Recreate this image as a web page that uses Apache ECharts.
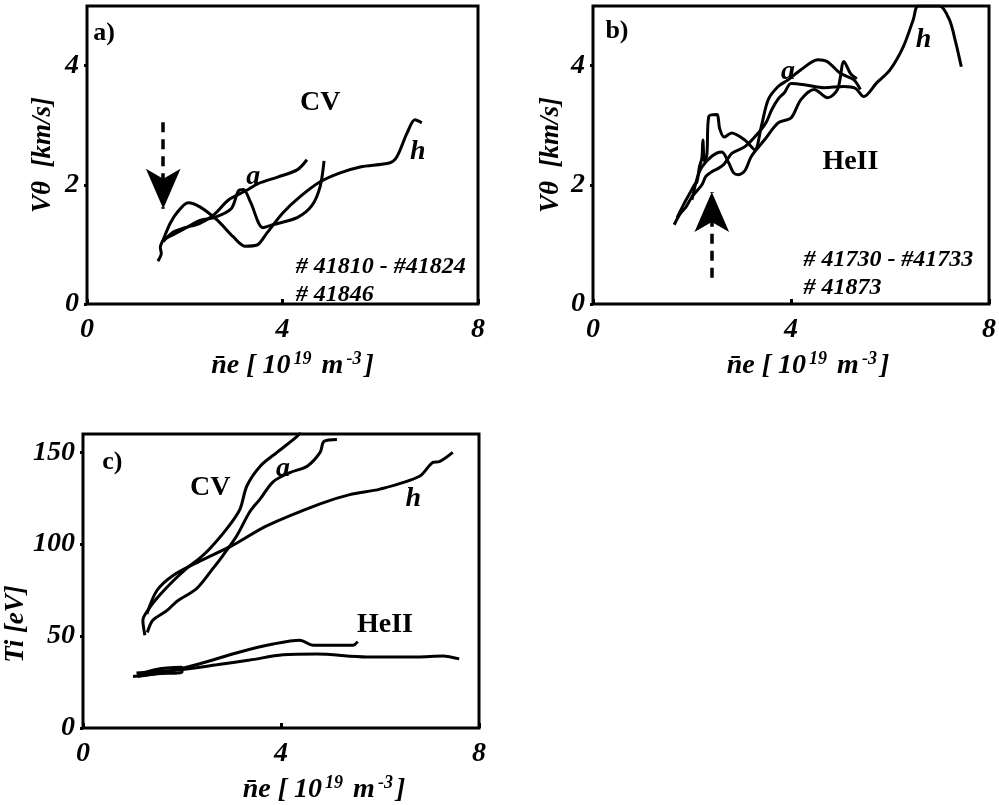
<!DOCTYPE html>
<html><head><meta charset="utf-8">
<script src="https://cdn.jsdelivr.net/npm/echarts@6/dist/echarts.min.js"></script>
<style>html,body{margin:0;padding:0;background:#fff}#c{width:999px;height:805px}</style>
</head><body><div id="c"></div>
<script>
// ---- tick labels ----
const xTicks = [0, 4, 8];
const yTicksV = [0, 2, 4];
const yTicksT = [0, 50, 100, 150];

// ---- panel a : CV rotation velocity ----
const aCurveH = [[1.45,0.72],[1.52,0.85],[1.5,0.95],[1.56,1.08],[1.7,1.35],[1.84,1.53],[2.07,1.70],[2.31,1.63],[2.66,1.41],[2.99,1.13],[3.23,0.97],[3.48,0.99],[3.68,1.19],[4.01,1.53],[4.36,1.80],[4.77,2.05],[5.18,2.20],[5.59,2.30],[6.2,2.37],[6.34,2.47],[6.55,2.87],[6.71,3.09],[6.85,3.04]];
const aCurveA = [[1.56,1.05],[1.75,1.2],[2.0,1.28],[2.3,1.35],[2.6,1.5],[2.9,1.75],[3.25,1.9],[3.5,2.02],[3.9,2.13],[4.3,2.25],[4.5,2.42]];
const aCurve3 = [[1.56,1.08],[1.9,1.22],[2.3,1.4],[2.6,1.45],[2.95,1.6],[3.1,1.9],[3.2,1.92],[3.35,1.7],[3.6,1.28],[3.8,1.33],[4.3,1.45],[4.6,1.65],[4.77,1.97],[4.85,2.4]];
const aArrow = [[1.56,3.05],[1.56,1.6]];

// ---- panel b : HeII rotation velocity ----
const bCurveH = [[1.64,1.33],[1.75,1.5],[1.88,1.63],[2.0,1.8],[2.08,1.88],[2.2,2.0],[2.28,2.14],[2.4,2.22],[2.54,2.28],[2.65,2.35],[2.81,2.53],[3.07,2.64],[3.34,2.87],[3.5,3.05],[3.61,3.26],[3.75,3.45],[3.87,3.55],[4.0,3.7],[4.27,3.68],[4.67,3.63],[5.07,3.65],[5.3,3.62],[5.47,3.48],[5.73,3.71],[6.0,3.93],[6.27,4.32],[6.47,4.77],[6.57,5.0],[7.0,5.0],[7.2,4.77],[7.33,4.38],[7.44,3.98]];
const bCurveA = [[1.7,1.45],[1.85,1.7],[1.95,1.85],[2.05,2.0],[2.1,2.05],[2.15,2.3],[2.2,2.45],[2.22,2.75],[2.25,2.4],[2.3,2.5],[2.34,3.15],[2.5,3.18],[2.56,2.94],[2.65,2.8],[2.8,2.87],[3.07,2.75],[3.27,2.59],[3.4,2.98],[3.54,3.43],[3.74,3.65],[3.94,3.76],[4.2,3.93],[4.54,4.1],[4.73,4.07],[5.0,3.87],[5.27,3.76],[5.4,3.6]];
const bCurve3 = [[2.0,1.75],[2.1,2.1],[2.2,2.3],[2.4,2.48],[2.6,2.55],[2.74,2.37],[2.84,2.2],[2.94,2.17],[3.07,2.24],[3.2,2.48],[3.47,2.76],[3.74,3.04],[4.0,3.12],[4.2,3.43],[4.47,3.6],[4.74,3.46],[4.94,3.6],[5.07,4.07],[5.2,3.87],[5.33,3.78]];
const bArrow = [[2.4,0.44],[2.4,1.88]];

// ---- panel c : ion temperature ----
const cCurveCV = [[1.25,50.5],[1.21,58.6],[1.35,65.6],[1.56,72.6],[1.82,80],[2.1,87],[2.36,92.5],[2.57,97.8],[2.91,108.6],[3.17,119],[3.31,131.7],[3.58,142.5],[3.92,150],[4.32,158.6],[4.4,161]];
const cCurveA = [[1.3,52],[1.41,58.6],[1.7,64],[1.9,69],[2.3,76],[2.63,87],[2.83,94],[3.11,104.8],[3.37,117.7],[3.58,124.7],[3.84,134],[4.18,139],[4.53,142.5],[4.79,150],[4.87,156],[5.13,157]];
const cCurveH = [[1.29,62],[1.49,74.7],[1.82,83],[2.36,90.8],[3.03,99.5],[3.71,110],[4.79,122],[5.39,127],[6.0,130],[6.8,137],[7.07,144.6],[7.2,145],[7.47,150]];
const cHe1 = [[1.01,28],[1.7,30.6],[2.36,35],[3.17,41.4],[3.84,45.7],[4.38,47.8],[4.65,45],[5.45,45],[5.55,47]];
const cHe2 = [[1.08,30],[1.96,31.7],[2.7,34.4],[3.37,37],[4.04,39.8],[4.72,40.3],[5.73,38.7],[6.75,38.7],[7.27,39.2],[7.6,37.6]];
const cHe3 = [[1.1,29],[1.5,32],[2.0,33],[2.0,30.5],[1.5,29.5],[1.1,28]];

// ---- annotations [x, y, text, align] ----
const aNotes = [[0.12,4.55,'a)','left'],[4.77,3.38,'CV','center'],[3.4,2.13,'a','center'],[6.77,2.55,'h','center'],[4.26,0.62,'# 41810 - #41824','left'],[4.26,0.15,'# 41846','left']];
const bNotes = [[0.24,4.57,'b)','left'],[3.94,3.9,'a','center'],[6.68,4.44,'h','center'],[5.2,2.39,'HeII','center'],[4.24,0.74,'# 41730 - #41733','left'],[4.24,0.27,'# 41873','left']];
const cNotes = [[0.38,144.6,'c)','left'],[2.57,131,'CV','center'],[4.04,141,'a','center'],[6.67,124.7,'h','center'],[6.1,56,'HeII','center']];

const SERIF = 'Liberation Serif';
const chart = echarts.init(document.getElementById('c'), null, {renderer:'canvas'});

const xName = '{b|n\u0304e [ 10}{s|19}{b| m}{s|-3}{b|]}';
const nameRich = {
  b:{fontFamily:SERIF,fontStyle:'italic',fontWeight:'bold',fontSize:28,color:'#000'},
  s:{fontFamily:SERIF,fontStyle:'italic',fontWeight:'bold',fontSize:18,color:'#000',verticalAlign:'top',padding:[0,3,14,3]}
};
function xAxis(gi, padLeft){
  return {type:'value',gridIndex:gi,min:0,max:8,
    name:xName,nameLocation:'middle',nameGap:46,
    nameTextStyle:{rich:nameRich,padding:[0,0,0,padLeft]},
    axisLine:{show:false},splitLine:{show:false},
    axisTick:{show:true,inside:true,length:5,lineStyle:{color:'#000',width:3},customValues:xTicks},
    axisLabel:{customValues:xTicks,margin:12,fontFamily:SERIF,fontStyle:'italic',fontWeight:'bold',fontSize:28,color:'#000'}};
}
function yAxis(gi, max, ticks, name, gap, pad){
  return {type:'value',gridIndex:gi,min:0,max:max,
    name:name,nameLocation:'middle',nameGap:gap,nameRotate:90,
    nameTextStyle:{fontFamily:SERIF,fontStyle:'italic',fontWeight:'bold',fontSize:27,color:'#000',padding:pad},
    axisLine:{show:false},splitLine:{show:false},
    axisTick:{show:true,inside:false,length:3,lineStyle:{color:'#000',width:3},customValues:ticks},
    axisLabel:{customValues:ticks,margin:8,fontFamily:SERIF,fontStyle:'italic',fontWeight:'bold',fontSize:28,color:'#000'}};
}
function curve(data, xi){
  return {type:'line',xAxisIndex:xi,yAxisIndex:xi,data:data,showSymbol:false,symbol:'none',
    smooth:0.3,lineStyle:{color:'#000',width:3},silent:true,z:3};
}
function arrow(pts, xi){
  return {type:'line',xAxisIndex:xi,yAxisIndex:xi,data:[],silent:true,
    markLine:{silent:true,symbol:['none','arrow'],symbolSize:[26,40],label:{show:false},
      lineStyle:{color:'#000',width:3.5,type:[10,7]},
      data:[[{coord:pts[0]},{coord:pts[1]}]]}};
}
function notes(list, xi){
  return {type:'scatter',xAxisIndex:xi,yAxisIndex:xi,symbolSize:1,silent:true,z:5,
    itemStyle:{color:'rgba(0,0,0,0)',opacity:1},
    data:list.map(n=>{
      const hash = n[2].startsWith('#');
      const panel = n[2].endsWith(')');
      const italic = hash || n[2]==='a' || n[2]==='h';
      return {value:[n[0],n[1]],label:{show:true,formatter:n[2],opacity:1,
        position:n[3]==='left'?'right':'inside',distance:0,
        fontFamily:SERIF,fontStyle:italic?'italic':'normal',fontWeight:'bold',
        fontSize:hash?24:(panel?26:28),color:'#000'}};
    })};
}

const grids = [
  {left:87,top:6,width:391,height:298},
  {left:593,top:6,width:400,height:298},
  {left:83,top:434,width:396,height:298}
].map(g=>Object.assign(g,{show:true,borderColor:'#000',borderWidth:3,backgroundColor:'transparent',containLabel:false}));

chart.setOption({
  animation:false,
  backgroundColor:'#fff',
  grid:grids,
  xAxis:[xAxis(0,20),xAxis(1,34),xAxis(2,86)],
  yAxis:[
    yAxis(0,5,yTicksV,'V\u03b8  [km/s]',30,[0,0,0,0]),
    yAxis(1,5,yTicksV,'V\u03b8  [km/s]',28,[0,0,0,0]),
    yAxis(2,160,yTicksT,'Ti [eV]',44,[0,86,0,0])
  ],
  series:[
    curve(aCurveH,0),curve(aCurveA,0),curve(aCurve3,0),arrow(aArrow,0),notes(aNotes,0),
    curve(bCurveH,1),curve(bCurveA,1),curve(bCurve3,1),arrow(bArrow,1),notes(bNotes,1),
    curve(cCurveCV,2),curve(cCurveA,2),curve(cCurveH,2),curve(cHe1,2),curve(cHe2,2),curve(cHe3,2),notes(cNotes,2)
  ]
});
</script></body></html>
